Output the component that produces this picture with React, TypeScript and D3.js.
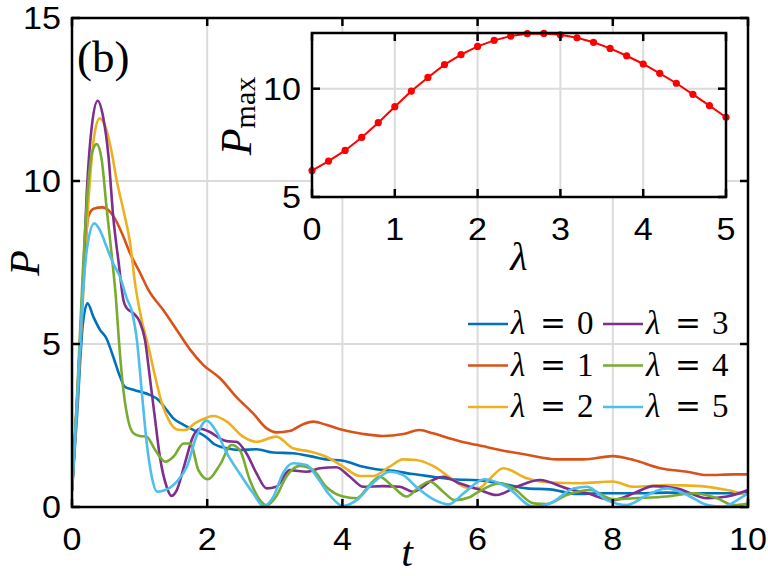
import React, { useEffect, useRef } from "react";
import * as d3 from "d3";

// line colours (MATLAB default order)
const colors = ["#0072BD", "#D95319", "#EDB120", "#7E2F8E", "#77AC30", "#4DBEEE"];
const legendValues = ["0", "1", "2", "3", "4", "5"];

// P(t) for each lambda: [t, P]
const lambda0 = [
  [0, 0.5], [0.08, 3.0], [0.16, 5.6], [0.23, 6.25], [0.315, 5.84], [0.41, 5.45], [0.51, 5.17],
  [0.61, 4.61], [0.71, 4.0], [0.78, 3.69], [0.88, 3.61], [1.0, 3.54], [1.15, 3.44], [1.28, 3.28],
  [1.38, 3.03], [1.5, 2.72], [1.65, 2.52], [1.8, 2.36], [2.0, 2.12], [2.09, 1.95], [2.29, 1.8],
  [2.48, 1.75], [2.73, 1.77], [2.98, 1.67], [3.27, 1.65], [3.52, 1.56], [3.76, 1.46], [4.01, 1.42],
  [4.26, 1.26], [4.5, 1.16], [4.75, 1.11], [5.04, 1.01], [5.34, 0.93], [5.64, 0.85], [6.0, 0.82],
  [6.33, 0.73], [6.73, 0.57], [7.07, 0.54], [7.47, 0.4], [7.81, 0.42], [8.31, 0.42], [8.8, 0.44],
  [9.3, 0.42], [10, 0.42],
];
const lambda1 = [
  [0, 0.5], [0.08, 3.5], [0.16, 6.6], [0.24, 8.9], [0.32, 9.15], [0.45, 9.19], [0.56, 9.06],
  [0.66, 8.75], [0.76, 8.29], [0.86, 7.78], [1.01, 7.17], [1.13, 6.66], [1.35, 6.04], [1.55, 5.43],
  [1.75, 4.82], [1.94, 4.36], [2.19, 3.95], [2.43, 3.38], [2.68, 2.87], [2.88, 2.41], [3.02, 2.29],
  [3.22, 2.33], [3.42, 2.54], [3.57, 2.62], [3.76, 2.52], [4.01, 2.36], [4.31, 2.24], [4.6, 2.18],
  [4.9, 2.24], [5.14, 2.36], [5.34, 2.26], [5.59, 2.1], [5.83, 1.97], [6.0, 1.9], [6.33, 1.75],
  [6.73, 1.6], [7.17, 1.46], [7.57, 1.46], [8.0, 1.56], [8.31, 1.44], [8.7, 1.19], [9.1, 1.08],
  [9.4, 0.98], [9.79, 1.0], [10, 1.0],
];
const lambda2 = [
  [0, 0.5], [0.08, 3.3], [0.16, 6.3], [0.25, 9.6], [0.33, 11.4], [0.41, 11.92], [0.51, 11.56],
  [0.59, 10.85], [0.66, 10.03], [0.76, 9.11], [0.86, 8.09], [0.93, 6.9], [1.03, 5.74], [1.13, 4.92],
  [1.23, 4.0], [1.33, 3.18], [1.43, 2.67], [1.55, 2.38], [1.67, 2.36], [1.82, 2.57], [1.99, 2.74],
  [2.09, 2.79], [2.29, 2.62], [2.53, 2.16], [2.73, 2.0], [3.02, 2.16], [3.27, 1.8], [3.52, 1.7],
  [3.76, 1.54], [4.01, 1.24], [4.26, 0.95], [4.45, 0.95], [4.7, 1.24], [4.9, 1.46], [5.09, 1.44],
  [5.34, 1.26], [5.64, 0.83], [5.83, 0.6], [6.02, 0.58], [6.15, 0.8], [6.38, 1.19], [6.73, 0.88],
  [7.07, 0.75], [7.52, 0.73], [8.0, 0.78], [8.31, 0.62], [8.8, 0.67], [9.3, 0.64], [9.69, 0.52],
  [10, 0.37],
];
const lambda3 = [
  [0, 0.5], [0.08, 3.4], [0.16, 6.8], [0.22, 9.7], [0.3, 11.8], [0.38, 12.46], [0.46, 11.97],
  [0.54, 10.75], [0.61, 8.9], [0.69, 7.5], [0.76, 6.35], [0.81, 6.1], [0.91, 5.94], [1.0, 5.69],
  [1.08, 5.12], [1.15, 4.0], [1.23, 2.67], [1.3, 1.54], [1.4, 0.62], [1.47, 0.34], [1.55, 0.52],
  [1.67, 1.34], [1.79, 2.16], [1.89, 2.4], [2.04, 2.3], [2.19, 2.1], [2.29, 2.02], [2.43, 2.0],
  [2.58, 1.65], [2.73, 1.03], [2.88, 0.57], [3.02, 0.62], [3.22, 1.13], [3.47, 1.08], [3.67, 1.19],
  [3.91, 1.22], [4.11, 0.93], [4.31, 0.62], [4.6, 0.64], [4.85, 0.62], [5.04, 0.47], [5.34, 0.83],
  [5.49, 0.93], [5.73, 0.73], [6.0, 0.55], [6.28, 0.37], [6.58, 0.62], [6.92, 0.83], [7.32, 0.57],
  [7.62, 0.42], [8.0, 0.21], [8.31, 0.42], [8.6, 0.64], [8.95, 0.57], [9.4, 0.27], [9.69, 0.32],
  [10, 0.52],
];
const lambda4 = [
  [0, 0.5], [0.08, 3.6], [0.16, 7.2], [0.24, 9.9], [0.3, 10.9], [0.365, 11.13], [0.44, 10.64],
  [0.51, 9.21], [0.59, 7.68], [0.65, 6.4], [0.69, 5.22], [0.76, 3.59], [0.83, 2.67], [0.91, 2.26],
  [1.0, 2.18], [1.1, 2.16], [1.23, 1.75], [1.38, 1.39], [1.5, 1.54], [1.65, 1.95], [1.75, 1.95],
  [1.87, 1.13], [2.01, 0.85], [2.19, 1.3], [2.36, 1.9], [2.48, 1.75], [2.63, 0.83], [2.78, 0.21],
  [2.88, 0.05], [3.02, 0.32], [3.17, 0.93], [3.37, 1.26], [3.57, 1.13], [3.76, 0.62], [4.01, 0.32],
  [4.21, 0.27], [4.4, 0.67], [4.55, 0.93], [4.75, 0.62], [4.95, 0.32], [5.14, 0.62], [5.29, 0.78],
  [5.49, 0.47], [5.66, 0.21], [5.88, 0.3], [6.0, 0.45], [6.33, 0.73], [6.53, 0.57], [6.83, 0.11],
  [7.02, 0.09], [7.32, 0.37], [7.67, 0.52], [8.0, 0.24], [8.31, 0.27], [8.8, 0.32], [9.2, 0.42],
  [9.54, 0.27], [9.79, 0.06], [10, 0.11],
];
const lambda5 = [
  [0, 0.5], [0.08, 3.4], [0.16, 6.5], [0.22, 7.9], [0.33, 8.7], [0.41, 8.5], [0.51, 7.99],
  [0.61, 7.47], [0.71, 7.06], [0.81, 6.4], [0.88, 6.04], [0.96, 5.12], [1.03, 3.59], [1.1, 2.06],
  [1.18, 0.93], [1.26, 0.47], [1.38, 0.52], [1.55, 0.78], [1.7, 1.24], [1.84, 2.16], [1.99, 2.65],
  [2.14, 2.3], [2.29, 1.65], [2.48, 1.03], [2.68, 0.42], [2.83, 0.03], [2.98, 0.32], [3.12, 1.03],
  [3.27, 1.34], [3.47, 1.29], [3.62, 0.93], [3.81, 0.37], [4.01, 0.03], [4.21, 0.21], [4.45, 0.73],
  [4.7, 1.08], [4.9, 0.98], [5.09, 0.62], [5.34, 0.24], [5.57, 0.08], [5.81, 0.45], [6.1, 0.85],
  [6.43, 0.62], [6.83, 0.01], [7.07, 0.11], [7.42, 0.57], [7.62, 0.62], [7.91, 0.21], [8.21, 0.06],
  [8.51, 0.37], [8.8, 0.57], [9.1, 0.37], [9.4, 0.06], [9.64, 0.01], [9.84, 0.21], [10, 0.42],
];
const seriesList = [lambda0, lambda1, lambda2, lambda3, lambda4, lambda5];

// inset: P_max vs lambda
const insetLambda = [0, 0.2, 0.4, 0.6, 0.8, 1.0, 1.2, 1.4, 1.6, 1.8, 2.0, 2.2, 2.4, 2.6, 2.8, 3.0, 3.2, 3.4, 3.6, 3.8, 4.0, 4.2, 4.4, 4.6, 4.8, 5.0];
const insetPmax = [6.22, 6.66, 7.15, 7.75, 8.43, 9.17, 9.89, 10.52, 11.11, 11.57, 11.95, 12.23, 12.43, 12.54, 12.55, 12.49, 12.35, 12.14, 11.86, 11.52, 11.14, 10.71, 10.25, 9.74, 9.22, 8.68];

const mainXTicks = [0, 2, 4, 6, 8, 10];
const mainYTicks = [0, 5, 10, 15];
const insetXTicks = [0, 1, 2, 3, 4, 5];
const insetYTicks = [5, 10];

const W = 768;
const H = 576;
const sansFont = "'Liberation Sans', Arial, Helvetica, sans-serif";
const serifFont = "'Liberation Serif', 'Times New Roman', serif";
const gridColor = "#dbdbdb";

const App = () => {
  const ref = useRef(null);

  useEffect(() => {
    const svg = d3.select(ref.current);
    svg.selectAll("*").remove();

    // tick label helper, slightly widened like the reference font
    const tickLabel = (g: any, x: number, y: number, txt: string, anchor: string) => {
      g.append("text")
        .attr("transform", `translate(${x},${y}) scale(1.1,1)`)
        .attr("text-anchor", anchor)
        .style("font-family", sansFont)
        .style("font-size", "31px")
        .attr("fill", "#000")
        .text(txt);
    };

    const drawAxes = (g: any, x: any, y: any, xt: number[], yt: number[], labelX: boolean) => {
      const [x0, x1] = x.range();
      const [y0, y1] = y.range();
      // ticks (inward, all four sides)
      xt.forEach((v) => {
        g.append("line").attr("x1", x(v)).attr("x2", x(v)).attr("y1", y0).attr("y2", y0 - 8)
          .attr("stroke", "#000").attr("stroke-width", 2.5);
        g.append("line").attr("x1", x(v)).attr("x2", x(v)).attr("y1", y1).attr("y2", y1 + 8)
          .attr("stroke", "#000").attr("stroke-width", 2.5);
      });
      yt.forEach((v) => {
        g.append("line").attr("x1", x0).attr("x2", x0 + 8).attr("y1", y(v)).attr("y2", y(v))
          .attr("stroke", "#000").attr("stroke-width", 2.5);
        g.append("line").attr("x1", x1).attr("x2", x1 - 8).attr("y1", y(v)).attr("y2", y(v))
          .attr("stroke", "#000").attr("stroke-width", 2.5);
      });
      g.append("rect")
        .attr("x", x0).attr("y", y1).attr("width", x1 - x0).attr("height", y0 - y1)
        .attr("fill", "none").attr("stroke", "#000").attr("stroke-width", 2.5);
      if (labelX) {
        xt.forEach((v) => tickLabel(g, x(v), y0 + 43, String(v), "middle"));
      }
      yt.forEach((v) => tickLabel(g, x0 - 11, y(v) + 11, String(v), "end"));
    };

    const drawGrid = (g: any, x: any, y: any, xt: number[], yt: number[]) => {
      const [x0, x1] = x.range();
      const [y0, y1] = y.range();
      xt.forEach((v) => {
        g.append("line").attr("x1", x(v)).attr("x2", x(v)).attr("y1", y0).attr("y2", y1)
          .attr("stroke", gridColor).attr("stroke-width", 2);
      });
      yt.forEach((v) => {
        g.append("line").attr("x1", x0).attr("x2", x1).attr("y1", y(v)).attr("y2", y(v))
          .attr("stroke", gridColor).attr("stroke-width", 2);
      });
    };

    // ---- main axes
    const x = d3.scaleLinear().domain([0, 10]).range([72, 748]);
    const y = d3.scaleLinear().domain([0, 15]).range([507, 18]);
    const main = svg.append("g");
    drawGrid(main, x, y, mainXTicks, mainYTicks);

    svg.append("defs").append("clipPath").attr("id", "mainClip")
      .append("rect").attr("x", 72).attr("y", 18).attr("width", 676).attr("height", 489);

    const line = d3.line<any>()
      .x((d: any) => x(d[0]))
      .y((d: any) => y(d[1]))
      .curve(d3.curveMonotoneX);

    const curves = main.append("g").attr("clip-path", "url(#mainClip)");
    seriesList.forEach((s, i) => {
      curves.append("path")
        .attr("d", line(s))
        .attr("fill", "none")
        .attr("stroke", colors[i])
        .attr("stroke-width", 2.6)
        .attr("stroke-linejoin", "round");
    });

    drawAxes(main, x, y, mainXTicks, mainYTicks, true);

    // axis titles
    svg.append("text")
      .attr("transform", "translate(39,263) rotate(-90)")
      .attr("text-anchor", "middle")
      .style("font-family", serifFont).style("font-style", "italic").style("font-size", "42px")
      .text("P");
    svg.append("text")
      .attr("x", 407).attr("y", 566)
      .attr("text-anchor", "middle")
      .style("font-family", serifFont).style("font-style", "italic").style("font-size", "42px")
      .text("t");
    svg.append("text")
      .attr("x", 77).attr("y", 72)
      .style("font-family", serifFont).style("font-size", "45px")
      .text("(b)");

    // ---- legend
    const legend = svg.append("g");
    const colX = [468, 603];
    const rowY = [334, 375.5, 417];
    seriesList.forEach((_s, i) => {
      const cx = colX[Math.floor(i / 3)];
      const by = rowY[i % 3];
      legend.append("line")
        .attr("x1", cx).attr("x2", cx + 40).attr("y1", by - 10).attr("y2", by - 10)
        .attr("stroke", colors[i]).attr("stroke-width", 2.6);
      legend.append("text").attr("x", cx + 43).attr("y", by)
        .style("font-family", serifFont).style("font-style", "italic").style("font-size", "33px")
        .text("λ");
      legend.append("text").attr("x", cx + 72).attr("y", by)
        .style("font-family", "'DejaVu Serif', serif").style("font-size", "31px")
        .text("=");
      legend.append("text").attr("x", cx + 109).attr("y", by)
        .style("font-family", serifFont).style("font-size", "33px")
        .text(legendValues[i]);
    });

    // ---- inset
    const ix = d3.scaleLinear().domain([0, 5]).range([312, 726]);
    const iy = d3.scaleLinear().domain([5, 12.57]).range([197, 33]);
    const inset = svg.append("g");
    inset.append("rect").attr("x", 312).attr("y", 33).attr("width", 414).attr("height", 164).attr("fill", "#fff");
    drawGrid(inset, ix, iy, insetXTicks, insetYTicks);

    const insetData = insetLambda.map((l, i) => [l, insetPmax[i]]);
    const iline = d3.line<any>()
      .x((d: any) => ix(d[0]))
      .y((d: any) => iy(d[1]));
    inset.append("path")
      .attr("d", iline(insetData))
      .attr("fill", "none")
      .attr("stroke", "#ff0000")
      .attr("stroke-width", 2);
    inset.selectAll("circle.pt")
      .data(insetData)
      .join("circle")
      .attr("class", "pt")
      .attr("cx", (d: any) => ix(d[0]))
      .attr("cy", (d: any) => iy(d[1]))
      .attr("r", 3.6)
      .attr("fill", "#ff0000");

    drawAxes(inset, ix, iy, insetXTicks, insetYTicks, false);
    insetXTicks.forEach((v) => tickLabel(inset, ix(v), 240, String(v), "middle"));

    const pmax = svg.append("text")
      .attr("transform", "translate(251,116) rotate(-90)")
      .attr("text-anchor", "middle")
      .style("font-family", serifFont);
    pmax.append("tspan").style("font-style", "italic").style("font-size", "44px").text("P");
    pmax.append("tspan").attr("dy", 4).style("font-size", "30px").text("max");

    svg.append("text")
      .attr("x", 519).attr("y", 270)
      .attr("text-anchor", "middle")
      .style("font-family", serifFont).style("font-style", "italic").style("font-size", "40px")
      .text("λ");
  }, []);

  return (
    <div style={{ position: "absolute", left: 0, top: 0, width: W, height: H, background: "#fff" }}>
      <svg ref={ref} width={W} height={H} viewBox={`0 0 ${W} ${H}`}></svg>
    </div>
  );
};

export default App;
